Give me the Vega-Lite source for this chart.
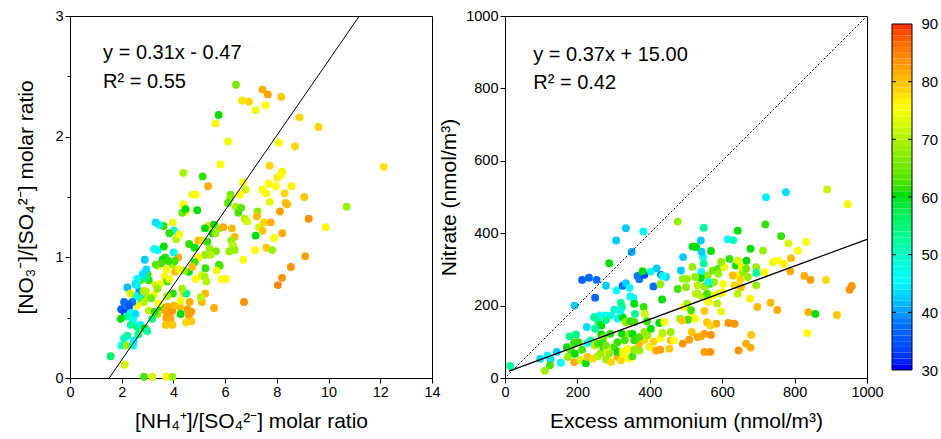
{
  "$schema": "https://vega.github.io/schema/vega-lite/v6.json",
  "background": "white",
  "padding": {"left": 15, "top": 7, "right": 0, "bottom": 0},
  "bounds": "flush",
  "spacing": 73,
  "config": {
    "font": "Liberation Sans",
    "view": {"stroke": "black", "strokeWidth": 1},
    "axis": {
      "grid": false,
      "domainColor": "black",
      "tickColor": "black",
      "labelColor": "black",
      "titleColor": "black",
      "labelFontSize": 14.5,
      "titleFontSize": 21,
      "titleFontWeight": "normal",
      "labelPadding": 2,
      "labelFlush": false
    }
  },
  "datasets": {
    "left": [
      {"nh4_so4": 6.42, "no3_so4": 2.43, "rh": 66},
      {"nh4_so4": 7.44, "no3_so4": 2.39, "rh": 81},
      {"nh4_so4": 7.65, "no3_so4": 2.35, "rh": 82},
      {"nh4_so4": 8.17, "no3_so4": 2.33, "rh": 79},
      {"nh4_so4": 6.66, "no3_so4": 2.30, "rh": 77},
      {"nh4_so4": 6.92, "no3_so4": 2.29, "rh": 78},
      {"nh4_so4": 7.56, "no3_so4": 2.26, "rh": 75},
      {"nh4_so4": 7.18, "no3_so4": 2.22, "rh": 74},
      {"nh4_so4": 5.75, "no3_so4": 2.18, "rh": 60},
      {"nh4_so4": 5.63, "no3_so4": 2.11, "rh": 74},
      {"nh4_so4": 8.88, "no3_so4": 2.16, "rh": 78},
      {"nh4_so4": 9.61, "no3_so4": 2.08, "rh": 78},
      {"nh4_so4": 6.11, "no3_so4": 1.96, "rh": 74},
      {"nh4_so4": 8.08, "no3_so4": 1.95, "rh": 75},
      {"nh4_so4": 8.70, "no3_so4": 1.92, "rh": 78},
      {"nh4_so4": 5.82, "no3_so4": 1.77, "rh": 75},
      {"nh4_so4": 7.72, "no3_so4": 1.76, "rh": 78},
      {"nh4_so4": 12.13, "no3_so4": 1.75, "rh": 77},
      {"nh4_so4": 4.38, "no3_so4": 1.70, "rh": 69},
      {"nh4_so4": 5.13, "no3_so4": 1.67, "rh": 61},
      {"nh4_so4": 5.34, "no3_so4": 1.59, "rh": 81},
      {"nh4_so4": 6.69, "no3_so4": 1.62, "rh": 75},
      {"nh4_so4": 6.79, "no3_so4": 1.56, "rh": 72},
      {"nh4_so4": 7.68, "no3_so4": 1.61, "rh": 75},
      {"nh4_so4": 8.02, "no3_so4": 1.66, "rh": 76},
      {"nh4_so4": 8.21, "no3_so4": 1.71, "rh": 76},
      {"nh4_so4": 8.15, "no3_so4": 1.68, "rh": 75},
      {"nh4_so4": 7.96, "no3_so4": 1.59, "rh": 75},
      {"nh4_so4": 8.57, "no3_so4": 1.59, "rh": 76},
      {"nh4_so4": 7.44, "no3_so4": 1.56, "rh": 75},
      {"nh4_so4": 7.59, "no3_so4": 1.53, "rh": 74},
      {"nh4_so4": 7.73, "no3_so4": 1.46, "rh": 73},
      {"nh4_so4": 8.30, "no3_so4": 1.53, "rh": 78},
      {"nh4_so4": 8.34, "no3_so4": 1.45, "rh": 80},
      {"nh4_so4": 8.40, "no3_so4": 1.44, "rh": 80},
      {"nh4_so4": 9.06, "no3_so4": 1.50, "rh": 79},
      {"nh4_so4": 4.74, "no3_so4": 1.52, "rh": 74},
      {"nh4_so4": 4.86, "no3_so4": 1.52, "rh": 75},
      {"nh4_so4": 4.38, "no3_so4": 1.44, "rh": 75},
      {"nh4_so4": 4.48, "no3_so4": 1.38, "rh": 75},
      {"nh4_so4": 4.34, "no3_so4": 1.37, "rh": 64},
      {"nh4_so4": 4.47, "no3_so4": 1.40, "rh": 60},
      {"nh4_so4": 4.92, "no3_so4": 1.39, "rh": 60},
      {"nh4_so4": 6.21, "no3_so4": 1.52, "rh": 65},
      {"nh4_so4": 6.20, "no3_so4": 1.49, "rh": 67},
      {"nh4_so4": 6.11, "no3_so4": 1.45, "rh": 63},
      {"nh4_so4": 6.57, "no3_so4": 1.52, "rh": 75},
      {"nh4_so4": 6.42, "no3_so4": 1.42, "rh": 69},
      {"nh4_so4": 6.62, "no3_so4": 1.41, "rh": 63},
      {"nh4_so4": 6.51, "no3_so4": 1.37, "rh": 62},
      {"nh4_so4": 6.75, "no3_so4": 1.32, "rh": 70},
      {"nh4_so4": 6.85, "no3_so4": 1.30, "rh": 72},
      {"nh4_so4": 7.25, "no3_so4": 1.38, "rh": 67},
      {"nh4_so4": 7.23, "no3_so4": 1.34, "rh": 80},
      {"nh4_so4": 7.31, "no3_so4": 1.25, "rh": 72},
      {"nh4_so4": 7.45, "no3_so4": 1.22, "rh": 79},
      {"nh4_so4": 7.50, "no3_so4": 1.29, "rh": 78},
      {"nh4_so4": 7.76, "no3_so4": 1.29, "rh": 81},
      {"nh4_so4": 8.12, "no3_so4": 1.38, "rh": 82},
      {"nh4_so4": 8.21, "no3_so4": 1.20, "rh": 81},
      {"nh4_so4": 9.23, "no3_so4": 1.32, "rh": 83},
      {"nh4_so4": 9.89, "no3_so4": 1.25, "rh": 75},
      {"nh4_so4": 10.70, "no3_so4": 1.42, "rh": 68},
      {"nh4_so4": 7.18, "no3_so4": 1.18, "rh": 60},
      {"nh4_so4": 7.89, "no3_so4": 1.16, "rh": 75},
      {"nh4_so4": 7.16, "no3_so4": 1.06, "rh": 75},
      {"nh4_so4": 7.59, "no3_so4": 1.08, "rh": 79},
      {"nh4_so4": 7.82, "no3_so4": 1.06, "rh": 68},
      {"nh4_so4": 6.70, "no3_so4": 0.98, "rh": 75},
      {"nh4_so4": 9.10, "no3_so4": 1.01, "rh": 82},
      {"nh4_so4": 8.54, "no3_so4": 0.92, "rh": 83},
      {"nh4_so4": 8.20, "no3_so4": 0.83, "rh": 83},
      {"nh4_so4": 8.04, "no3_so4": 0.77, "rh": 84},
      {"nh4_so4": 6.73, "no3_so4": 0.63, "rh": 83},
      {"nh4_so4": 5.57, "no3_so4": 0.58, "rh": 81},
      {"nh4_so4": 5.36, "no3_so4": 1.26, "rh": 78},
      {"nh4_so4": 5.22, "no3_so4": 1.24, "rh": 60},
      {"nh4_so4": 5.57, "no3_so4": 1.27, "rh": 60},
      {"nh4_so4": 5.77, "no3_so4": 1.24, "rh": 68},
      {"nh4_so4": 5.93, "no3_so4": 1.25, "rh": 81},
      {"nh4_so4": 6.26, "no3_so4": 1.24, "rh": 80},
      {"nh4_so4": 6.37, "no3_so4": 1.17, "rh": 80},
      {"nh4_so4": 6.24, "no3_so4": 1.14, "rh": 68},
      {"nh4_so4": 6.30, "no3_so4": 1.10, "rh": 70},
      {"nh4_so4": 6.37, "no3_so4": 1.06, "rh": 68},
      {"nh4_so4": 6.16, "no3_so4": 1.05, "rh": 68},
      {"nh4_so4": 4.96, "no3_so4": 1.14, "rh": 80},
      {"nh4_so4": 5.09, "no3_so4": 1.14, "rh": 78},
      {"nh4_so4": 4.61, "no3_so4": 1.11, "rh": 61},
      {"nh4_so4": 4.82, "no3_so4": 1.08, "rh": 60},
      {"nh4_so4": 5.31, "no3_so4": 1.13, "rh": 61},
      {"nh4_so4": 5.52, "no3_so4": 1.20, "rh": 60},
      {"nh4_so4": 5.63, "no3_so4": 1.20, "rh": 68},
      {"nh4_so4": 5.41, "no3_so4": 1.07, "rh": 68},
      {"nh4_so4": 5.64, "no3_so4": 1.05, "rh": 66},
      {"nh4_so4": 5.44, "no3_so4": 1.02, "rh": 70},
      {"nh4_so4": 5.21, "no3_so4": 1.02, "rh": 68},
      {"nh4_so4": 4.97, "no3_so4": 1.00, "rh": 74},
      {"nh4_so4": 5.76, "no3_so4": 0.94, "rh": 62},
      {"nh4_so4": 5.79, "no3_so4": 0.93, "rh": 62},
      {"nh4_so4": 5.67, "no3_so4": 0.89, "rh": 74},
      {"nh4_so4": 5.24, "no3_so4": 0.91, "rh": 61},
      {"nh4_so4": 5.08, "no3_so4": 0.85, "rh": 72},
      {"nh4_so4": 5.21, "no3_so4": 0.84, "rh": 69},
      {"nh4_so4": 5.27, "no3_so4": 0.80, "rh": 70},
      {"nh4_so4": 5.86, "no3_so4": 0.82, "rh": 75},
      {"nh4_so4": 6.03, "no3_so4": 0.82, "rh": 75},
      {"nh4_so4": 4.86, "no3_so4": 0.82, "rh": 75},
      {"nh4_so4": 4.82, "no3_so4": 0.96, "rh": 62},
      {"nh4_so4": 4.60, "no3_so4": 0.88, "rh": 60},
      {"nh4_so4": 4.42, "no3_so4": 0.89, "rh": 68},
      {"nh4_so4": 4.73, "no3_so4": 0.92, "rh": 80},
      {"nh4_so4": 4.19, "no3_so4": 1.00, "rh": 81},
      {"nh4_so4": 4.06, "no3_so4": 0.88, "rh": 80},
      {"nh4_so4": 4.22, "no3_so4": 0.90, "rh": 74},
      {"nh4_so4": 3.96, "no3_so4": 0.94, "rh": 69},
      {"nh4_so4": 4.05, "no3_so4": 0.97, "rh": 62},
      {"nh4_so4": 4.01, "no3_so4": 1.04, "rh": 47},
      {"nh4_so4": 4.02, "no3_so4": 1.22, "rh": 49},
      {"nh4_so4": 3.84, "no3_so4": 1.20, "rh": 61},
      {"nh4_so4": 4.11, "no3_so4": 1.15, "rh": 70},
      {"nh4_so4": 3.97, "no3_so4": 1.29, "rh": 74},
      {"nh4_so4": 4.22, "no3_so4": 1.19, "rh": 74},
      {"nh4_so4": 3.62, "no3_so4": 1.26, "rh": 61},
      {"nh4_so4": 3.44, "no3_so4": 1.27, "rh": 45},
      {"nh4_so4": 3.31, "no3_so4": 1.29, "rh": 43},
      {"nh4_so4": 3.39, "no3_so4": 1.06, "rh": 46},
      {"nh4_so4": 3.25, "no3_so4": 1.07, "rh": 46},
      {"nh4_so4": 3.63, "no3_so4": 1.09, "rh": 60},
      {"nh4_so4": 3.68, "no3_so4": 1.00, "rh": 61},
      {"nh4_so4": 3.40, "no3_so4": 0.93, "rh": 72},
      {"nh4_so4": 3.58, "no3_so4": 0.98, "rh": 60},
      {"nh4_so4": 3.80, "no3_so4": 0.97, "rh": 61},
      {"nh4_so4": 3.53, "no3_so4": 0.95, "rh": 62},
      {"nh4_so4": 3.32, "no3_so4": 0.94, "rh": 63},
      {"nh4_so4": 3.74, "no3_so4": 0.90, "rh": 74},
      {"nh4_so4": 3.66, "no3_so4": 0.84, "rh": 75},
      {"nh4_so4": 3.76, "no3_so4": 0.80, "rh": 62},
      {"nh4_so4": 3.84, "no3_so4": 0.82, "rh": 75},
      {"nh4_so4": 3.47, "no3_so4": 0.78, "rh": 75},
      {"nh4_so4": 3.31, "no3_so4": 0.77, "rh": 72},
      {"nh4_so4": 2.86, "no3_so4": 0.85, "rh": 68},
      {"nh4_so4": 2.73, "no3_so4": 0.81, "rh": 63},
      {"nh4_so4": 3.05, "no3_so4": 0.81, "rh": 61},
      {"nh4_so4": 3.00, "no3_so4": 0.86, "rh": 62},
      {"nh4_so4": 2.93, "no3_so4": 0.83, "rh": 54},
      {"nh4_so4": 2.89, "no3_so4": 0.98, "rh": 42},
      {"nh4_so4": 2.95, "no3_so4": 0.90, "rh": 43},
      {"nh4_so4": 2.81, "no3_so4": 0.86, "rh": 43},
      {"nh4_so4": 2.60, "no3_so4": 0.82, "rh": 45},
      {"nh4_so4": 2.53, "no3_so4": 0.78, "rh": 43},
      {"nh4_so4": 2.68, "no3_so4": 0.72, "rh": 39},
      {"nh4_so4": 2.58, "no3_so4": 0.77, "rh": 44},
      {"nh4_so4": 2.22, "no3_so4": 0.75, "rh": 41},
      {"nh4_so4": 2.54, "no3_so4": 0.68, "rh": 46},
      {"nh4_so4": 2.33, "no3_so4": 0.70, "rh": 72},
      {"nh4_so4": 2.84, "no3_so4": 0.72, "rh": 68},
      {"nh4_so4": 2.93, "no3_so4": 0.72, "rh": 70},
      {"nh4_so4": 2.99, "no3_so4": 0.67, "rh": 69},
      {"nh4_so4": 3.25, "no3_so4": 0.69, "rh": 74},
      {"nh4_so4": 3.38, "no3_so4": 0.74, "rh": 68},
      {"nh4_so4": 3.14, "no3_so4": 0.66, "rh": 65},
      {"nh4_so4": 2.73, "no3_so4": 0.66, "rh": 51},
      {"nh4_so4": 2.86, "no3_so4": 0.63, "rh": 70},
      {"nh4_so4": 2.60, "no3_so4": 0.60, "rh": 74},
      {"nh4_so4": 2.41, "no3_so4": 0.63, "rh": 38},
      {"nh4_so4": 2.24, "no3_so4": 0.61, "rh": 36},
      {"nh4_so4": 2.09, "no3_so4": 0.63, "rh": 37},
      {"nh4_so4": 1.98, "no3_so4": 0.57, "rh": 36},
      {"nh4_so4": 2.11, "no3_so4": 0.54, "rh": 33},
      {"nh4_so4": 2.28, "no3_so4": 0.59, "rh": 35},
      {"nh4_so4": 2.35, "no3_so4": 0.54, "rh": 45},
      {"nh4_so4": 2.53, "no3_so4": 0.53, "rh": 43},
      {"nh4_so4": 2.19, "no3_so4": 0.51, "rh": 52},
      {"nh4_so4": 2.44, "no3_so4": 0.48, "rh": 47},
      {"nh4_so4": 1.96, "no3_so4": 0.49, "rh": 60},
      {"nh4_so4": 2.35, "no3_so4": 0.44, "rh": 52},
      {"nh4_so4": 2.60, "no3_so4": 0.42, "rh": 54},
      {"nh4_so4": 2.73, "no3_so4": 0.44, "rh": 47},
      {"nh4_so4": 2.89, "no3_so4": 0.41, "rh": 60},
      {"nh4_so4": 2.99, "no3_so4": 0.39, "rh": 52},
      {"nh4_so4": 2.64, "no3_so4": 0.36, "rh": 53},
      {"nh4_so4": 2.22, "no3_so4": 0.35, "rh": 52},
      {"nh4_so4": 2.09, "no3_so4": 0.33, "rh": 50},
      {"nh4_so4": 1.99, "no3_so4": 0.27, "rh": 47},
      {"nh4_so4": 2.18, "no3_so4": 0.27, "rh": 68},
      {"nh4_so4": 2.44, "no3_so4": 0.27, "rh": 47},
      {"nh4_so4": 2.47, "no3_so4": 0.31, "rh": 44},
      {"nh4_so4": 1.57, "no3_so4": 0.18, "rh": 55},
      {"nh4_so4": 2.12, "no3_so4": 0.11, "rh": 72},
      {"nh4_so4": 2.86, "no3_so4": 0.01, "rh": 62},
      {"nh4_so4": 3.18, "no3_so4": 0.01, "rh": 72},
      {"nh4_so4": 3.72, "no3_so4": 0.01, "rh": 75},
      {"nh4_so4": 3.96, "no3_so4": 0.01, "rh": 68},
      {"nh4_so4": 3.05, "no3_so4": 0.56, "rh": 70},
      {"nh4_so4": 3.38, "no3_so4": 0.53, "rh": 68},
      {"nh4_so4": 3.18, "no3_so4": 0.49, "rh": 53},
      {"nh4_so4": 3.28, "no3_so4": 0.55, "rh": 61},
      {"nh4_so4": 3.50, "no3_so4": 0.59, "rh": 60},
      {"nh4_so4": 3.44, "no3_so4": 0.62, "rh": 75},
      {"nh4_so4": 3.67, "no3_so4": 0.56, "rh": 81},
      {"nh4_so4": 3.76, "no3_so4": 0.59, "rh": 81},
      {"nh4_so4": 3.86, "no3_so4": 0.53, "rh": 82},
      {"nh4_so4": 3.96, "no3_so4": 0.56, "rh": 83},
      {"nh4_so4": 3.72, "no3_so4": 0.50, "rh": 82},
      {"nh4_so4": 3.89, "no3_so4": 0.49, "rh": 81},
      {"nh4_so4": 4.02, "no3_so4": 0.60, "rh": 80},
      {"nh4_so4": 4.25, "no3_so4": 0.59, "rh": 80},
      {"nh4_so4": 3.70, "no3_so4": 0.44, "rh": 79},
      {"nh4_so4": 3.96, "no3_so4": 0.44, "rh": 79},
      {"nh4_so4": 4.28, "no3_so4": 0.53, "rh": 60},
      {"nh4_so4": 4.54, "no3_so4": 0.57, "rh": 82},
      {"nh4_so4": 4.63, "no3_so4": 0.63, "rh": 81},
      {"nh4_so4": 4.69, "no3_so4": 0.55, "rh": 82},
      {"nh4_so4": 4.60, "no3_so4": 0.52, "rh": 82},
      {"nh4_so4": 4.69, "no3_so4": 0.47, "rh": 79},
      {"nh4_so4": 4.49, "no3_so4": 0.46, "rh": 78},
      {"nh4_so4": 4.40, "no3_so4": 0.70, "rh": 78},
      {"nh4_so4": 4.50, "no3_so4": 0.70, "rh": 53},
      {"nh4_so4": 3.98, "no3_so4": 0.70, "rh": 61},
      {"nh4_so4": 3.76, "no3_so4": 0.68, "rh": 69},
      {"nh4_so4": 4.28, "no3_so4": 0.64, "rh": 75},
      {"nh4_so4": 4.34, "no3_so4": 0.74, "rh": 69},
      {"nh4_so4": 5.10, "no3_so4": 0.63, "rh": 80},
      {"nh4_so4": 5.23, "no3_so4": 0.70, "rh": 80},
      {"nh4_so4": 5.05, "no3_so4": 0.67, "rh": 70}
    ],
    "right": [
      {"excess_nh4": 14, "nitrate": 33, "rh": 52},
      {"excess_nh4": 110, "nitrate": 20, "rh": 68},
      {"excess_nh4": 97, "nitrate": 53, "rh": 43},
      {"excess_nh4": 117, "nitrate": 62, "rh": 46},
      {"excess_nh4": 126, "nitrate": 51, "rh": 43},
      {"excess_nh4": 124, "nitrate": 35, "rh": 62},
      {"excess_nh4": 143, "nitrate": 72, "rh": 42},
      {"excess_nh4": 154, "nitrate": 42, "rh": 46},
      {"excess_nh4": 171, "nitrate": 85, "rh": 60},
      {"excess_nh4": 178, "nitrate": 115, "rh": 53},
      {"excess_nh4": 196, "nitrate": 120, "rh": 53},
      {"excess_nh4": 191, "nitrate": 97, "rh": 61},
      {"excess_nh4": 202, "nitrate": 99, "rh": 61},
      {"excess_nh4": 182, "nitrate": 76, "rh": 63},
      {"excess_nh4": 174, "nitrate": 58, "rh": 68},
      {"excess_nh4": 193, "nitrate": 67, "rh": 60},
      {"excess_nh4": 213, "nitrate": 78, "rh": 62},
      {"excess_nh4": 191, "nitrate": 44, "rh": 81},
      {"excess_nh4": 209, "nitrate": 49, "rh": 72},
      {"excess_nh4": 223, "nitrate": 41, "rh": 60},
      {"excess_nh4": 228, "nitrate": 58, "rh": 79},
      {"excess_nh4": 242, "nitrate": 53, "rh": 78},
      {"excess_nh4": 256, "nitrate": 60, "rh": 70},
      {"excess_nh4": 265, "nitrate": 69, "rh": 68},
      {"excess_nh4": 272, "nitrate": 85, "rh": 62},
      {"excess_nh4": 283, "nitrate": 76, "rh": 75},
      {"excess_nh4": 279, "nitrate": 51, "rh": 68},
      {"excess_nh4": 293, "nitrate": 44, "rh": 78},
      {"excess_nh4": 311, "nitrate": 58, "rh": 80},
      {"excess_nh4": 320, "nitrate": 49, "rh": 78},
      {"excess_nh4": 329, "nitrate": 65, "rh": 75},
      {"excess_nh4": 343, "nitrate": 53, "rh": 75},
      {"excess_nh4": 352, "nitrate": 60, "rh": 62},
      {"excess_nh4": 362, "nitrate": 81, "rh": 75},
      {"excess_nh4": 371, "nitrate": 76, "rh": 68},
      {"excess_nh4": 371, "nitrate": 95, "rh": 80},
      {"excess_nh4": 385, "nitrate": 106, "rh": 78},
      {"excess_nh4": 398, "nitrate": 86, "rh": 74},
      {"excess_nh4": 410, "nitrate": 100, "rh": 78},
      {"excess_nh4": 417, "nitrate": 76, "rh": 81},
      {"excess_nh4": 429, "nitrate": 78, "rh": 82},
      {"excess_nh4": 429, "nitrate": 109, "rh": 75},
      {"excess_nh4": 435, "nitrate": 123, "rh": 78},
      {"excess_nh4": 454, "nitrate": 81, "rh": 79},
      {"excess_nh4": 458, "nitrate": 104, "rh": 80},
      {"excess_nh4": 466, "nitrate": 104, "rh": 75},
      {"excess_nh4": 491, "nitrate": 95, "rh": 83},
      {"excess_nh4": 509, "nitrate": 106, "rh": 82},
      {"excess_nh4": 516, "nitrate": 127, "rh": 79},
      {"excess_nh4": 532, "nitrate": 113, "rh": 82},
      {"excess_nh4": 541, "nitrate": 115, "rh": 81},
      {"excess_nh4": 551, "nitrate": 122, "rh": 82},
      {"excess_nh4": 569, "nitrate": 119, "rh": 83},
      {"excess_nh4": 551, "nitrate": 72, "rh": 82},
      {"excess_nh4": 567, "nitrate": 72, "rh": 83},
      {"excess_nh4": 584, "nitrate": 150, "rh": 81},
      {"excess_nh4": 617, "nitrate": 152, "rh": 83},
      {"excess_nh4": 634, "nitrate": 150, "rh": 83},
      {"excess_nh4": 645, "nitrate": 76, "rh": 83},
      {"excess_nh4": 666, "nitrate": 95, "rh": 81},
      {"excess_nh4": 678, "nitrate": 84, "rh": 81},
      {"excess_nh4": 680, "nitrate": 119, "rh": 79},
      {"excess_nh4": 558, "nitrate": 154, "rh": 79},
      {"excess_nh4": 567, "nitrate": 145, "rh": 78},
      {"excess_nh4": 551, "nitrate": 185, "rh": 79},
      {"excess_nh4": 597, "nitrate": 184, "rh": 73},
      {"excess_nh4": 562, "nitrate": 210, "rh": 75},
      {"excess_nh4": 574, "nitrate": 229, "rh": 75},
      {"excess_nh4": 592, "nitrate": 233, "rh": 72},
      {"excess_nh4": 603, "nitrate": 260, "rh": 75},
      {"excess_nh4": 601, "nitrate": 237, "rh": 76},
      {"excess_nh4": 586, "nitrate": 206, "rh": 70},
      {"excess_nh4": 514, "nitrate": 168, "rh": 75},
      {"excess_nh4": 525, "nitrate": 164, "rh": 75},
      {"excess_nh4": 505, "nitrate": 161, "rh": 62},
      {"excess_nh4": 484, "nitrate": 164, "rh": 68},
      {"excess_nh4": 489, "nitrate": 159, "rh": 79},
      {"excess_nh4": 495, "nitrate": 196, "rh": 75},
      {"excess_nh4": 503, "nitrate": 205, "rh": 69},
      {"excess_nh4": 514, "nitrate": 187, "rh": 62},
      {"excess_nh4": 532, "nitrate": 233, "rh": 68},
      {"excess_nh4": 546, "nitrate": 224, "rh": 70},
      {"excess_nh4": 558, "nitrate": 233, "rh": 62},
      {"excess_nh4": 565, "nitrate": 260, "rh": 61},
      {"excess_nh4": 551, "nitrate": 253, "rh": 68},
      {"excess_nh4": 560, "nitrate": 283, "rh": 68},
      {"excess_nh4": 574, "nitrate": 297, "rh": 65},
      {"excess_nh4": 588, "nitrate": 301, "rh": 63},
      {"excess_nh4": 589, "nitrate": 288, "rh": 68},
      {"excess_nh4": 578, "nitrate": 265, "rh": 68},
      {"excess_nh4": 477, "nitrate": 246, "rh": 62},
      {"excess_nh4": 500, "nitrate": 251, "rh": 67},
      {"excess_nh4": 503, "nitrate": 274, "rh": 68},
      {"excess_nh4": 491, "nitrate": 274, "rh": 68},
      {"excess_nh4": 486, "nitrate": 297, "rh": 42},
      {"excess_nh4": 492, "nitrate": 334, "rh": 42},
      {"excess_nh4": 547, "nitrate": 334, "rh": 47},
      {"excess_nh4": 543, "nitrate": 349, "rh": 42},
      {"excess_nh4": 549, "nitrate": 316, "rh": 52},
      {"excess_nh4": 542, "nitrate": 293, "rh": 46},
      {"excess_nh4": 541, "nitrate": 276, "rh": 60},
      {"excess_nh4": 525, "nitrate": 279, "rh": 68},
      {"excess_nh4": 518, "nitrate": 307, "rh": 68},
      {"excess_nh4": 527, "nitrate": 233, "rh": 70},
      {"excess_nh4": 532, "nitrate": 256, "rh": 70},
      {"excess_nh4": 562, "nitrate": 265, "rh": 47},
      {"excess_nh4": 569, "nitrate": 351, "rh": 60},
      {"excess_nh4": 541, "nitrate": 380, "rh": 42},
      {"excess_nh4": 549, "nitrate": 415, "rh": 52},
      {"excess_nh4": 477, "nitrate": 432, "rh": 68},
      {"excess_nh4": 518, "nitrate": 363, "rh": 60},
      {"excess_nh4": 528, "nitrate": 362, "rh": 60},
      {"excess_nh4": 606, "nitrate": 306, "rh": 74},
      {"excess_nh4": 620, "nitrate": 329, "rh": 61},
      {"excess_nh4": 638, "nitrate": 311, "rh": 60},
      {"excess_nh4": 643, "nitrate": 324, "rh": 72},
      {"excess_nh4": 615, "nitrate": 383, "rh": 46},
      {"excess_nh4": 631, "nitrate": 381, "rh": 50},
      {"excess_nh4": 643, "nitrate": 407, "rh": 60},
      {"excess_nh4": 638, "nitrate": 283, "rh": 75},
      {"excess_nh4": 650, "nitrate": 273, "rh": 78},
      {"excess_nh4": 657, "nitrate": 292, "rh": 68},
      {"excess_nh4": 654, "nitrate": 306, "rh": 74},
      {"excess_nh4": 667, "nitrate": 324, "rh": 60},
      {"excess_nh4": 666, "nitrate": 302, "rh": 65},
      {"excess_nh4": 671, "nitrate": 279, "rh": 68},
      {"excess_nh4": 678, "nitrate": 357, "rh": 60},
      {"excess_nh4": 652, "nitrate": 251, "rh": 80},
      {"excess_nh4": 643, "nitrate": 233, "rh": 70},
      {"excess_nh4": 634, "nitrate": 256, "rh": 78},
      {"excess_nh4": 629, "nitrate": 283, "rh": 80},
      {"excess_nh4": 694, "nitrate": 256, "rh": 68},
      {"excess_nh4": 694, "nitrate": 306, "rh": 68},
      {"excess_nh4": 694, "nitrate": 290, "rh": 52},
      {"excess_nh4": 713, "nitrate": 352, "rh": 68},
      {"excess_nh4": 719, "nitrate": 424, "rh": 61},
      {"excess_nh4": 721, "nitrate": 499, "rh": 44},
      {"excess_nh4": 776, "nitrate": 513, "rh": 43},
      {"excess_nh4": 763, "nitrate": 392, "rh": 61},
      {"excess_nh4": 783, "nitrate": 372, "rh": 72},
      {"excess_nh4": 809, "nitrate": 352, "rh": 75},
      {"excess_nh4": 832, "nitrate": 376, "rh": 75},
      {"excess_nh4": 717, "nitrate": 292, "rh": 75},
      {"excess_nh4": 740, "nitrate": 320, "rh": 74},
      {"excess_nh4": 754, "nitrate": 325, "rh": 75},
      {"excess_nh4": 770, "nitrate": 315, "rh": 76},
      {"excess_nh4": 790, "nitrate": 331, "rh": 80},
      {"excess_nh4": 788, "nitrate": 295, "rh": 81},
      {"excess_nh4": 827, "nitrate": 282, "rh": 81},
      {"excess_nh4": 844, "nitrate": 271, "rh": 82},
      {"excess_nh4": 887, "nitrate": 271, "rh": 78},
      {"excess_nh4": 677, "nitrate": 219, "rh": 76},
      {"excess_nh4": 697, "nitrate": 196, "rh": 80},
      {"excess_nh4": 734, "nitrate": 208, "rh": 80},
      {"excess_nh4": 752, "nitrate": 188, "rh": 81},
      {"excess_nh4": 838, "nitrate": 182, "rh": 81},
      {"excess_nh4": 857, "nitrate": 177, "rh": 60},
      {"excess_nh4": 917, "nitrate": 174, "rh": 79},
      {"excess_nh4": 835, "nitrate": 124, "rh": 75},
      {"excess_nh4": 890, "nitrate": 521, "rh": 71},
      {"excess_nh4": 947, "nitrate": 480, "rh": 74},
      {"excess_nh4": 952, "nitrate": 244, "rh": 83},
      {"excess_nh4": 958, "nitrate": 254, "rh": 83},
      {"excess_nh4": 597, "nitrate": 321, "rh": 68},
      {"excess_nh4": 192, "nitrate": 200, "rh": 42},
      {"excess_nh4": 213, "nitrate": 271, "rh": 36},
      {"excess_nh4": 232, "nitrate": 277, "rh": 37},
      {"excess_nh4": 253, "nitrate": 271, "rh": 37},
      {"excess_nh4": 249, "nitrate": 222, "rh": 36},
      {"excess_nh4": 279, "nitrate": 255, "rh": 42},
      {"excess_nh4": 288, "nitrate": 317, "rh": 60},
      {"excess_nh4": 307, "nitrate": 380, "rh": 42},
      {"excess_nh4": 334, "nitrate": 414, "rh": 42},
      {"excess_nh4": 350, "nitrate": 348, "rh": 40},
      {"excess_nh4": 382, "nitrate": 405, "rh": 46},
      {"excess_nh4": 308, "nitrate": 242, "rh": 46},
      {"excess_nh4": 325, "nitrate": 255, "rh": 37},
      {"excess_nh4": 334, "nitrate": 262, "rh": 42},
      {"excess_nh4": 344, "nitrate": 249, "rh": 45},
      {"excess_nh4": 346, "nitrate": 225, "rh": 46},
      {"excess_nh4": 355, "nitrate": 221, "rh": 46},
      {"excess_nh4": 357, "nitrate": 205, "rh": 60},
      {"excess_nh4": 383, "nitrate": 196, "rh": 61},
      {"excess_nh4": 366, "nitrate": 282, "rh": 38},
      {"excess_nh4": 371, "nitrate": 273, "rh": 38},
      {"excess_nh4": 385, "nitrate": 285, "rh": 33},
      {"excess_nh4": 380, "nitrate": 295, "rh": 60},
      {"excess_nh4": 403, "nitrate": 294, "rh": 47},
      {"excess_nh4": 410, "nitrate": 253, "rh": 37},
      {"excess_nh4": 419, "nitrate": 303, "rh": 42},
      {"excess_nh4": 431, "nitrate": 285, "rh": 38},
      {"excess_nh4": 445, "nitrate": 279, "rh": 43},
      {"excess_nh4": 435, "nitrate": 282, "rh": 46},
      {"excess_nh4": 429, "nitrate": 259, "rh": 68},
      {"excess_nh4": 434, "nitrate": 217, "rh": 60},
      {"excess_nh4": 302, "nitrate": 189, "rh": 50},
      {"excess_nh4": 293, "nitrate": 173, "rh": 47},
      {"excess_nh4": 278, "nitrate": 173, "rh": 47},
      {"excess_nh4": 311, "nitrate": 164, "rh": 46},
      {"excess_nh4": 325, "nitrate": 168, "rh": 60},
      {"excess_nh4": 320, "nitrate": 208, "rh": 52},
      {"excess_nh4": 323, "nitrate": 196, "rh": 52},
      {"excess_nh4": 318, "nitrate": 185, "rh": 47},
      {"excess_nh4": 333, "nitrate": 154, "rh": 68},
      {"excess_nh4": 346, "nitrate": 157, "rh": 61},
      {"excess_nh4": 359, "nitrate": 177, "rh": 52},
      {"excess_nh4": 357, "nitrate": 155, "rh": 62},
      {"excess_nh4": 261, "nitrate": 173, "rh": 46},
      {"excess_nh4": 246, "nitrate": 168, "rh": 52},
      {"excess_nh4": 257, "nitrate": 157, "rh": 52},
      {"excess_nh4": 266, "nitrate": 145, "rh": 60},
      {"excess_nh4": 279, "nitrate": 160, "rh": 53},
      {"excess_nh4": 226, "nitrate": 141, "rh": 43},
      {"excess_nh4": 249, "nitrate": 136, "rh": 52},
      {"excess_nh4": 266, "nitrate": 120, "rh": 60},
      {"excess_nh4": 237, "nitrate": 104, "rh": 52},
      {"excess_nh4": 228, "nitrate": 97, "rh": 46},
      {"excess_nh4": 248, "nitrate": 90, "rh": 70},
      {"excess_nh4": 257, "nitrate": 95, "rh": 62},
      {"excess_nh4": 272, "nitrate": 112, "rh": 65},
      {"excess_nh4": 291, "nitrate": 122, "rh": 61},
      {"excess_nh4": 311, "nitrate": 99, "rh": 61},
      {"excess_nh4": 323, "nitrate": 122, "rh": 60},
      {"excess_nh4": 331, "nitrate": 104, "rh": 62},
      {"excess_nh4": 343, "nitrate": 122, "rh": 68},
      {"excess_nh4": 352, "nitrate": 122, "rh": 60},
      {"excess_nh4": 357, "nitrate": 104, "rh": 61},
      {"excess_nh4": 371, "nitrate": 113, "rh": 62},
      {"excess_nh4": 385, "nitrate": 127, "rh": 68},
      {"excess_nh4": 394, "nitrate": 118, "rh": 68},
      {"excess_nh4": 403, "nitrate": 136, "rh": 60},
      {"excess_nh4": 386, "nitrate": 177, "rh": 72},
      {"excess_nh4": 392, "nitrate": 157, "rh": 61},
      {"excess_nh4": 426, "nitrate": 152, "rh": 60},
      {"excess_nh4": 440, "nitrate": 155, "rh": 75},
      {"excess_nh4": 435, "nitrate": 125, "rh": 70},
      {"excess_nh4": 458, "nitrate": 127, "rh": 68},
      {"excess_nh4": 338, "nitrate": 81, "rh": 75},
      {"excess_nh4": 357, "nitrate": 78, "rh": 68},
      {"excess_nh4": 302, "nitrate": 85, "rh": 62},
      {"excess_nh4": 288, "nitrate": 67, "rh": 68},
      {"excess_nh4": 311, "nitrate": 72, "rh": 60},
      {"excess_nh4": 325, "nitrate": 72, "rh": 75},
      {"excess_nh4": 270, "nitrate": 95, "rh": 61},
      {"excess_nh4": 279, "nitrate": 90, "rh": 65}
    ],
    "bands": [
      {"lo": 30, "hi": 31}, {"lo": 31, "hi": 32}, {"lo": 32, "hi": 33}, {"lo": 33, "hi": 34}, {"lo": 34, "hi": 35},
      {"lo": 35, "hi": 36}, {"lo": 36, "hi": 37}, {"lo": 37, "hi": 38}, {"lo": 38, "hi": 39}, {"lo": 39, "hi": 40},
      {"lo": 40, "hi": 41}, {"lo": 41, "hi": 42}, {"lo": 42, "hi": 43}, {"lo": 43, "hi": 44}, {"lo": 44, "hi": 45},
      {"lo": 45, "hi": 46}, {"lo": 46, "hi": 47}, {"lo": 47, "hi": 48}, {"lo": 48, "hi": 49}, {"lo": 49, "hi": 50},
      {"lo": 50, "hi": 51}, {"lo": 51, "hi": 52}, {"lo": 52, "hi": 53}, {"lo": 53, "hi": 54}, {"lo": 54, "hi": 55},
      {"lo": 55, "hi": 56}, {"lo": 56, "hi": 57}, {"lo": 57, "hi": 58}, {"lo": 58, "hi": 59}, {"lo": 59, "hi": 60},
      {"lo": 60, "hi": 61}, {"lo": 61, "hi": 62}, {"lo": 62, "hi": 63}, {"lo": 63, "hi": 64}, {"lo": 64, "hi": 65},
      {"lo": 65, "hi": 66}, {"lo": 66, "hi": 67}, {"lo": 67, "hi": 68}, {"lo": 68, "hi": 69}, {"lo": 69, "hi": 70},
      {"lo": 70, "hi": 71}, {"lo": 71, "hi": 72}, {"lo": 72, "hi": 73}, {"lo": 73, "hi": 74}, {"lo": 74, "hi": 75},
      {"lo": 75, "hi": 76}, {"lo": 76, "hi": 77}, {"lo": 77, "hi": 78}, {"lo": 78, "hi": 79}, {"lo": 79, "hi": 80},
      {"lo": 80, "hi": 81}, {"lo": 81, "hi": 82}, {"lo": 82, "hi": 83}, {"lo": 83, "hi": 84}, {"lo": 84, "hi": 85},
      {"lo": 85, "hi": 86}, {"lo": 86, "hi": 87}, {"lo": 87, "hi": 88}, {"lo": 88, "hi": 89}, {"lo": 89, "hi": 90}
    ],
    "bar_ticks": [
      {"v": 40, "a": 0, "b": 0.2}, {"v": 40, "a": 0.8, "b": 1},
      {"v": 50, "a": 0, "b": 0.2}, {"v": 50, "a": 0.8, "b": 1},
      {"v": 60, "a": 0, "b": 0.2}, {"v": 60, "a": 0.8, "b": 1},
      {"v": 70, "a": 0, "b": 0.2}, {"v": 70, "a": 0.8, "b": 1},
      {"v": 80, "a": 0, "b": 0.2}, {"v": 80, "a": 0.8, "b": 1}
    ]
  },
  "hconcat": [
    {
      "width": 362,
      "height": 362,
      "layer": [
        {
          "data": {"name": "left"},
          "mark": {"type": "circle", "size": 62, "opacity": 1},
          "encoding": {
            "x": {
              "field": "nh4_so4", "type": "quantitative",
              "scale": {"domain": [0, 14], "nice": false, "zero": false},
              "axis": {
                "title": "[NH₄⁺]/[SO₄²⁻] molar ratio",
                "values": [0,1,2,3,4,5,6,7,8,9,10,11,12,13,14],
                "labelExpr": "datum.value % 2 === 0 ? format(datum.value, 'd') : ''",
                "tickSize": {"condition": {"test": "datum.value % 2 === 0", "value": 5}, "value": 3},
                "titlePadding": 12
              }
            },
            "y": {
              "field": "no3_so4", "type": "quantitative",
              "scale": {"domain": [0, 3], "nice": false},
              "axis": {
                "title": "[NO₃⁻]/[SO₄²⁻] molar ratio",
                "values": [0, 0.5, 1, 1.5, 2, 2.5, 3],
                "labelExpr": "datum.value % 1 === 0 ? format(datum.value, 'd') : ''",
                "tickSize": {"condition": {"test": "datum.value % 1 === 0", "value": 5}, "value": 3},
                "titlePadding": 18
              }
            },
            "color": {
              "field": "rh", "type": "quantitative",
              "scale": {
                "domain": [30, 37.5, 45, 52.5, 60, 67.5, 75, 82.5, 90],
                "range": ["#0000ff", "#0070ff", "#00ffff", "#00ff90", "#00e000", "#90ee00", "#ffff00", "#ff9900", "#ff0000"]
              },
              "legend": null
            }
          }
        },
        {
          "data": {"values": [{"x1": 1.516, "y1": 0, "x2": 11.19, "y2": 3}]},
          "mark": {"type": "rule", "color": "black", "strokeWidth": 1},
          "encoding": {
            "x": {"field": "x1", "type": "quantitative"},
            "y": {"field": "y1", "type": "quantitative"},
            "x2": {"field": "x2"},
            "y2": {"field": "y2"}
          }
        },
        {
          "data": {"values": [
            {"tx": 1.28, "ty": 2.69, "label": "y = 0.31x - 0.47"},
            {"tx": 1.28, "ty": 2.45, "label": "R² = 0.55"}
          ]},
          "mark": {"type": "text", "align": "left", "baseline": "middle", "fontSize": 20, "color": "black"},
          "encoding": {
            "x": {"field": "tx", "type": "quantitative"},
            "y": {"field": "ty", "type": "quantitative"},
            "text": {"field": "label"}
          }
        }
      ]
    },
    {
      "spacing": 25,
      "bounds": "flush",
      "hconcat": [
        {
          "width": 362,
          "height": 362,
          "layer": [
            {
              "data": {"name": "right"},
              "mark": {"type": "circle", "size": 62, "opacity": 1},
              "encoding": {
                "x": {
                  "field": "excess_nh4", "type": "quantitative",
                  "scale": {"domain": [0, 1000], "nice": false},
                  "axis": {
                    "title": "Excess ammonium (nmol/m³)",
                    "values": [0,100,200,300,400,500,600,700,800,900,1000],
                    "labelExpr": "datum.value % 200 === 0 ? format(datum.value, 'd') : ''",
                    "tickSize": {"condition": {"test": "datum.value % 200 === 0", "value": 5}, "value": 3},
                    "titlePadding": 12
                  }
                },
                "y": {
                  "field": "nitrate", "type": "quantitative",
                  "scale": {"domain": [0, 1000], "nice": false},
                  "axis": {
                    "title": "Nitrate (nmol/m³)",
                    "values": [0,100,200,300,400,500,600,700,800,900,1000],
                    "labelExpr": "datum.value % 200 === 0 ? format(datum.value, 'd') : ''",
                    "tickSize": {"condition": {"test": "datum.value % 200 === 0", "value": 5}, "value": 3},
                    "titlePadding": 6
                  }
                },
                "color": {
                  "field": "rh", "type": "quantitative",
                  "scale": {
                    "domain": [30, 37.5, 45, 52.5, 60, 67.5, 75, 82.5, 90],
                    "range": ["#0000ff", "#0070ff", "#00ffff", "#00ff90", "#00e000", "#90ee00", "#ffff00", "#ff9900", "#ff0000"]
                  },
                  "legend": null
                }
              }
            },
            {
              "data": {"values": [{"x1": 5, "y1": 5, "x2": 1000, "y2": 1000}]},
              "mark": {"type": "rule", "color": "black", "strokeWidth": 1, "strokeDash": [2, 2]},
              "encoding": {
                "x": {"field": "x1", "type": "quantitative"},
                "y": {"field": "y1", "type": "quantitative"},
                "x2": {"field": "x2"},
                "y2": {"field": "y2"}
              }
            },
            {
              "data": {"values": [{"x1": 11, "y1": 19, "x2": 1000, "y2": 383}]},
              "mark": {"type": "rule", "color": "black", "strokeWidth": 1.2},
              "encoding": {
                "x": {"field": "x1", "type": "quantitative"},
                "y": {"field": "y1", "type": "quantitative"},
                "x2": {"field": "x2"},
                "y2": {"field": "y2"}
              }
            },
            {
              "data": {"values": [
                {"tx": 78, "ty": 892, "label": "y = 0.37x + 15.00"},
                {"tx": 78, "ty": 815, "label": "R² = 0.42"}
              ]},
              "mark": {"type": "text", "align": "left", "baseline": "middle", "fontSize": 20, "color": "black"},
              "encoding": {
                "x": {"field": "tx", "type": "quantitative"},
                "y": {"field": "ty", "type": "quantitative"},
                "text": {"field": "label"}
              }
            }
          ]
        },
        {
          "width": 20,
          "height": 362,
          "view": {"stroke": null},
          "layer": [
            {
              "data": {"name": "bands"},
              "mark": {"type": "rect"},
              "encoding": {
                "y": {
                  "field": "lo", "type": "quantitative",
                  "scale": {"domain": [28.613, 91.387], "nice": false, "zero": false},
                  "axis": {
                    "orient": "right",
                    "title": null,
                    "values": [30, 40, 50, 60, 70, 80, 90],
                    "domain": false,
                    "ticks": false,
                    "labelFontSize": 15,
                    "labelPadding": 9
                  }
                },
                "y2": {"field": "hi"},
                "color": {
                  "field": "lo", "type": "quantitative",
                  "scale": {
                    "domain": [30, 37.5, 45, 52.5, 60, 67.5, 75, 82.5, 90],
                    "range": ["#0000ff", "#0070ff", "#00ffff", "#00ff90", "#00e000", "#90ee00", "#ffff00", "#ff9900", "#ff0000"]
                  },
                  "legend": null
                }
              }
            },
            {
              "data": {"values": [{"lo": 30, "hi": 90}]},
              "mark": {"type": "rect", "fill": null, "fillOpacity": 0, "stroke": "black", "strokeWidth": 1},
              "encoding": {
                "y": {"field": "lo", "type": "quantitative"},
                "y2": {"field": "hi"}
              }
            },
            {
              "data": {"name": "bar_ticks"},
              "mark": {"type": "rule", "color": "black", "strokeWidth": 1},
              "encoding": {
                "x": {"field": "a", "type": "quantitative", "scale": {"domain": [0, 1], "nice": false}, "axis": null},
                "x2": {"field": "b"},
                "y": {"field": "v", "type": "quantitative"}
              }
            }
          ]
        }
      ]
    }
  ]
}
